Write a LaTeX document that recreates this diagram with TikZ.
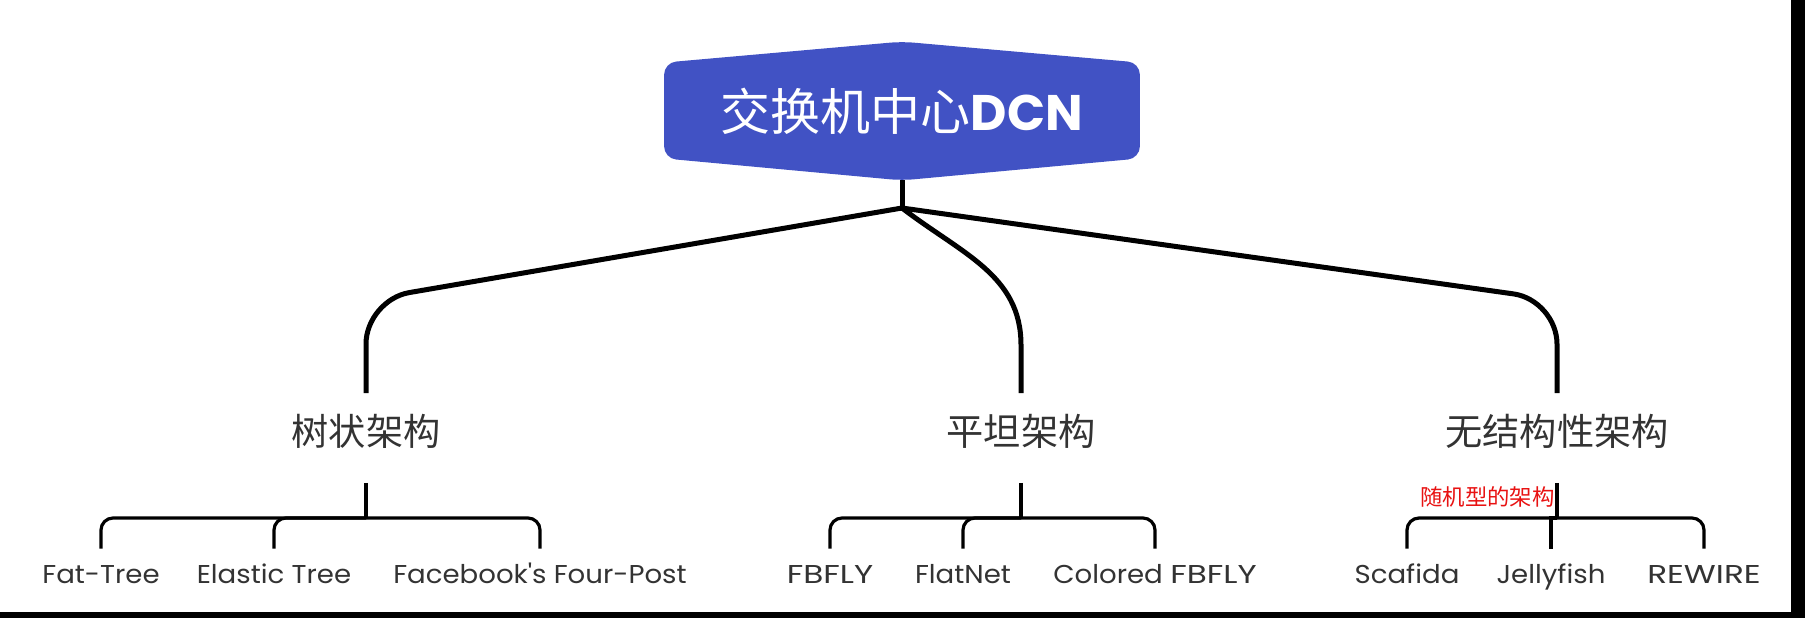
\documentclass[tikz,border=0pt]{standalone}
\usepackage{fontspec}
\setmainfont{Poppins}
\newfontfamily\cjk{Noto Sans CJK SC}
\newfontfamily\leaffont[FakeStretch=1.07]{Poppins}
\newfontfamily\capsfont[FakeStretch=1.27]{Poppins}
\newcommand\widecaps[1]{{\capsfont #1}}
\usetikzlibrary{backgrounds}
\definecolor{rootblue}{RGB}{65,82,196}
\definecolor{txtgray}{RGB}{51,51,51}
\definecolor{notered}{RGB}{232,18,18}

\begin{document}
\begin{tikzpicture}[x=0.5pt,y=-0.5pt,
    topedge/.style={line width=2.5pt,rounded corners=22pt},
    subedge/.style={line width=1.6pt,rounded corners=6pt},
    midlabel/.style={text=txtgray,font=\cjk\fontsize{18.6}{22}\selectfont,
      text height=0.83em,text depth=0.07em,inner xsep=0pt,inner ysep=17.7pt},
    leaf/.style={text=txtgray,font=\leaffont\fontsize{12.9}{15}\selectfont,
      text height=0.7em,text depth=0pt,inner xsep=0pt,inner ysep=10pt}]
  \useasboundingbox (0,0) rectangle (1805,618);
  % screen edge
  \fill (1791,0) rectangle (1805,618);
  \fill (0,612) rectangle (1805,618);
  % root
  \node[minimum width=237.5pt,minimum height=69pt,inner sep=0pt,text=white,
        font=\fontsize{25}{30}\selectfont] (root) at (902,111)
        {{\cjk 交换机中心}\textbf{DCN}};
  \begin{scope}[on background layer]
    \fill[rootblue,rounded corners=6pt]
      ([yshift=-10.5pt]root.north west) -- (root.north) -- ([yshift=-10.5pt]root.north east)
      -- ([yshift=11pt]root.south east) -- (root.south) -- ([yshift=11pt]root.south west) -- cycle;
  \end{scope}
  \coordinate (jn) at (902,208);
  \coordinate (bend) at (0,300);
  \coordinate (bendm) at (0,345);
  \coordinate (bar) at (0,518);
  % second level
  \node[midlabel] (tree) at (366,438) {树状架构};
  \node[midlabel] (flat) at (1021,438) {平坦架构};
  \node[midlabel] (rand) at (1557,438) {无结构性架构};
  \draw[line width=2.5pt] (root.south) -- (jn);
  \draw[topedge] (jn) -- (tree.north |- bend) -- (tree.north);
  \draw[topedge] (jn) -- (rand.north |- bend) -- (rand.north);
  \draw[line width=2.5pt] (jn) .. controls +(60,46) and +(0,-70) .. (flat.north |- bendm) -- (flat.north);
  % leaves
  \foreach \n/\x/\t in {l1/101/Fat-Tree, l2/274/Elastic Tree, l3/540/Facebook\textquotesingle s Four-Post,
                        l4/830/\widecaps{FBFLY}, l5/963/FlatNet, l6/1155/Colored \widecaps{FBFLY},
                        l7/1407/Scafida, l8/1551/Jellyfish, l9/1704/\widecaps{REWIRE}}
    \node[leaf] (\n) at (\x,576) {\t};
  \foreach \a in {tree,flat,rand}
    \draw[subedge] (\a.south) -- (\a.south |- bar);
  \foreach \a/\b in {tree/l1,tree/l2,tree/l3,flat/l4,flat/l5,flat/l6,rand/l7,rand/l9}
    \draw[subedge] (\a.south |- bar) -| (\b.north);
  \draw[subedge,sharp corners] (rand.south |- bar) -| (l8.north);
  % note
  \node[text=notered,font=\cjk\fontsize{11.2}{13}\selectfont,anchor=east,inner sep=0pt]
    (note) at (1555,497) {随机型的架构};
\end{tikzpicture}
\end{document}
